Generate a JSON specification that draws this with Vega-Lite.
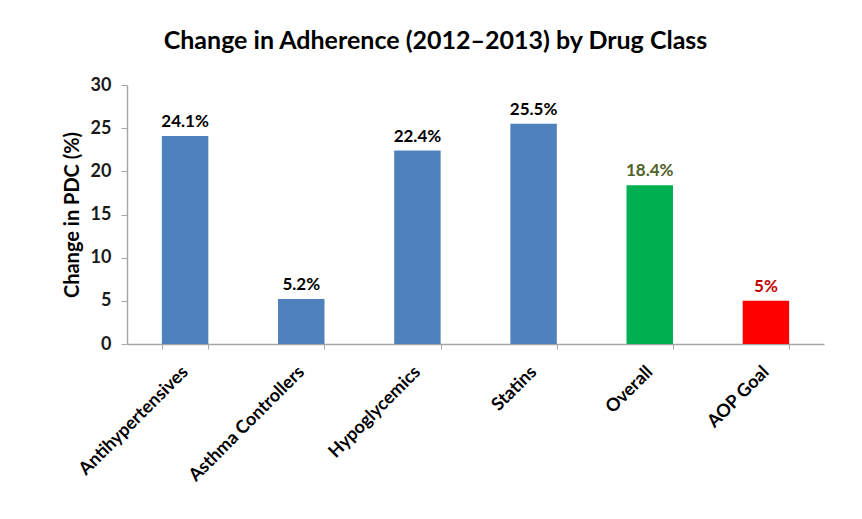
{
  "$schema": "https://vega.github.io/schema/vega-lite/v6.json",
  "width": 697,
  "height": 259,
  "autosize": "none",
  "padding": {"left": 127, "top": 85, "right": 38, "bottom": 175},
  "background": "white",
  "title": {
    "text": "Change in Adherence (2012–2013) by Drug Class",
    "font": "Lato",
    "fontSize": 25,
    "fontWeight": "bold",
    "color": "#000000",
    "anchor": "middle",
    "dx": -40,
    "offset": 22
  },
  "data": {
    "values": [
      {"cls": "Antihypertensives", "value": 24.1, "label": "24.1%", "group": "Drug class"},
      {"cls": "Asthma Controllers", "value": 5.2, "label": "5.2%", "group": "Drug class"},
      {"cls": "Hypoglycemics", "value": 22.4, "label": "22.4%", "group": "Drug class"},
      {"cls": "Statins", "value": 25.5, "label": "25.5%", "group": "Drug class"},
      {"cls": "Overall", "value": 18.4, "label": "18.4%", "group": "Overall"},
      {"cls": "AOP Goal", "value": 5, "label": "5%", "group": "Goal"}
    ]
  },
  "encoding": {
    "x": {
      "field": "cls",
      "type": "nominal",
      "sort": null,
      "scale": {"paddingInner": 0.6, "paddingOuter": 0.3},
      "axis": {
        "title": null,
        "labelAngle": -45,
        "labelAlign": "right",
        "labelBaseline": "middle",
        "labelFont": "Lato",
        "labelFontSize": 18,
        "labelFontWeight": "bold",
        "labelColor": "#000000",
        "labelPadding": 20,
        "tickBand": "extent",
        "tickSize": 5,
        "tickColor": "#A6A6A6",
        "domainColor": "#A6A6A6",
        "domainWidth": 1.5
      }
    },
    "y": {
      "field": "value",
      "type": "quantitative",
      "scale": {"domain": [0, 30], "nice": false},
      "axis": {
        "title": "Change in PDC (%)",
        "titleFont": "Lato",
        "titleFontSize": 20,
        "titleFontWeight": "bold",
        "titleColor": "#000000",
        "titlePadding": 8,
        "values": [0, 5, 10, 15, 20, 25, 30],
        "grid": false,
        "labelFont": "Lato",
        "labelFontSize": 18,
        "labelFontWeight": "bold",
        "labelColor": "#1a1a1a",
        "labelPadding": 10,
        "tickSize": 6,
        "tickColor": "#A6A6A6",
        "domainColor": "#A6A6A6",
        "domainWidth": 1.5
      }
    }
  },
  "layer": [
    {
      "mark": {"type": "bar"},
      "encoding": {
        "color": {
          "field": "group",
          "type": "nominal",
          "scale": {"domain": ["Drug class", "Overall", "Goal"], "range": ["#4F81BD", "#00B050", "#FF0000"]},
          "legend": null
        }
      }
    },
    {
      "mark": {"type": "text", "baseline": "bottom", "dy": -5, "font": "Lato", "fontSize": 17, "fontWeight": "bold"},
      "encoding": {
        "text": {"field": "label"},
        "color": {
          "field": "group",
          "type": "nominal",
          "scale": {"domain": ["Drug class", "Overall", "Goal"], "range": ["#000000", "#4F6228", "#C00000"]},
          "legend": null
        }
      }
    }
  ],
  "resolve": {"scale": {"color": "independent"}},
  "config": {"view": {"stroke": null}}
}
